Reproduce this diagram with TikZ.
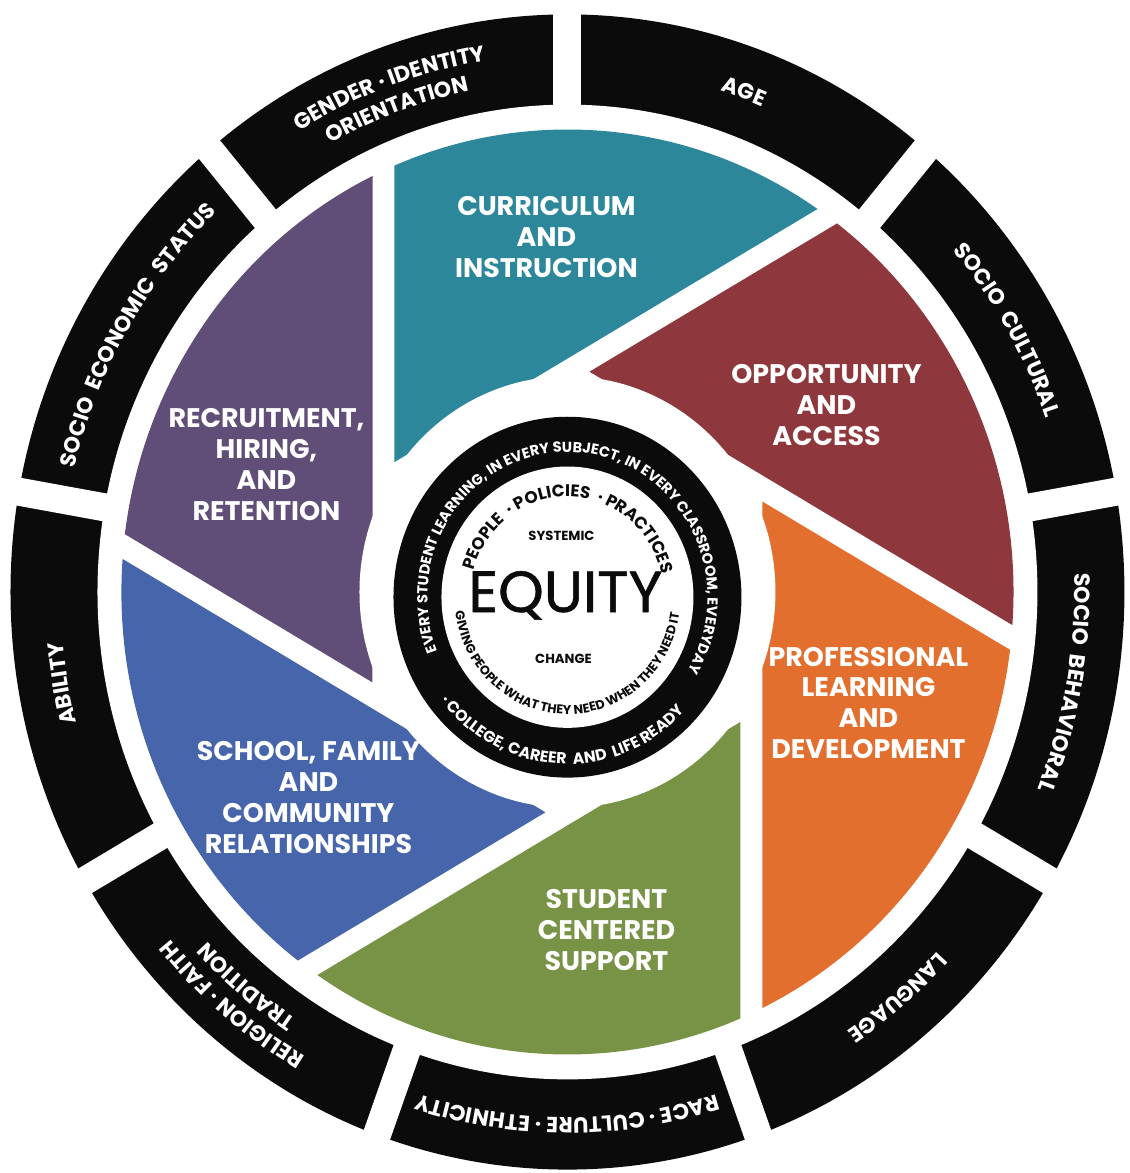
\documentclass[tikz,border=0pt]{standalone}
\usepackage{fontspec}
\setmainfont{Poppins}
\usetikzlibrary{decorations.text}
\definecolor{mauDen}{HTML}{0B0B0B}
\definecolor{mauTeal}{HTML}{2C879A}
\definecolor{mauMaroon}{HTML}{8E373C}
\definecolor{mauOrange}{HTML}{E36F2E}
\definecolor{mauGreen}{HTML}{799346}
\definecolor{mauBlue}{HTML}{4665AB}
\definecolor{mauPurple}{HTML}{604E78}
\tikzset{
  nhan/.style={text=white, font=\bfseries\fontsize{15.3}{17.6}\selectfont, align=center},
  giua/.style={text=mauDen, anchor=base},
}
% chu chay theo cung: goc giua, ban kinh, nua goc, chu
\newcommand{\chuvong}[4]{%
  \path[decorate,decoration={text along path,text align=center,text color=white,
      text={|\bfseries\fontsize{12.5}{13}\selectfont|#4}}]
    ({#1+#3}:#2) arc[start angle={#1+#3},end angle={#1-#3},radius=#2];}
\begin{document}
\begin{tikzpicture}[x=0.2mm, y=0.2mm, yscale=1.037]
  \def\Rout{557}% vong ngoai
  \def\Rin{470}
  \def\Rpet{446}% canh hoa
  \def\Rhole{208}
  \def\dl{173}
  \def\gp{22}
  \pgfmathsetmacro\vy{(0.5*\dl+\gp)/cos(30)}
  \useasboundingbox (-567.5,-560.3) rectangle (562.5,570.9);
  % vong ngoai 9 o
  \fill[mauDen] (0,0) circle (\Rout);
  \fill[white] (0,0) circle (\Rin);
  \foreach \a in {10,50,...,330}
    \draw[white, line width=5.6mm] (\a:455) -- (\a:600);
  % sau canh hoa
  \foreach \goc/\mau in {0/mauTeal,-60/mauMaroon,-120/mauOrange,-180/mauGreen,-240/mauBlue,-300/mauPurple}{
    \begin{scope}[rotate=\goc]
      \clip (0,0) circle (\Rpet);
      \fill[\mau] (-\dl,\vy) -- ++(0,1200) -- ++(1040,0) -- ++(0,-600) -- cycle;
    \end{scope}}
  \fill[white] (0,0) circle (\Rhole);
  % chu tren vong ngoai
  \chuvong{110}{519}{22}{GENDER · IDENTITY}
  \chuvong{110}{493}{22}{ORIENTATION}
  \chuvong{70}{507}{20}{AGE}
  \chuvong{30}{507}{20}{SOCIO {\ }CULTURAL}
  \chuvong{-10}{507}{20}{SOCIO {\ }BEHAVIORAL}
  \chuvong{-50}{507}{20}{LANGUAGE}
  \chuvong{-90}{507}{22}{RACE · CULTURE · ETHNICITY}
  \chuvong{-130}{519}{22}{RELIGION · FAITH}
  \chuvong{-130}{493}{22}{TRADITION}
  \chuvong{-170}{507}{20}{ABILITY}
  \chuvong{150}{507}{22}{SOCIO {\ }ECONOMIC {\ }STATUS}
  % nhan canh hoa
  \node[nhan] (curriculum) at (-21,342) {CURRICULUM\\AND\\INSTRUCTION};
  \node[nhan] (opportunity) at (259,180) {OPPORTUNITY\\AND\\ACCESS};
  \node[nhan] (professional) at (301,-107) {PROFESSIONAL\\LEARNING\\AND\\DEVELOPMENT};
  \node[nhan] (student) at (39,-326) {STUDENT\\CENTERED\\SUPPORT};
  \node[nhan] (school) at (-259,-198) {SCHOOL, FAMILY\\AND\\COMMUNITY\\RELATIONSHIPS};
  \node[nhan] (recruitment) at (-301,123) {RECRUITMENT,\\HIRING,\\AND\\RETENTION};
  % vong tron giua
  \begin{scope}[shift={(0,-5)}]
    \fill[mauDen] (0,0) circle (174);
    \fill[white] (0,0) circle (126);
    \path[decorate,decoration={text along path,text align=center,text color=white,
        text={|\bfseries\fontsize{8.3}{9}\selectfont|EVERY STUDENT LEARNING, IN EVERY SUBJECT, IN EVERY CLASSROOM, EVERYDAY}}]
      (225:140) arc[start angle=225,end angle=-54,radius=140];
    \path[decorate,decoration={text along path,text align=center,text color=white,
        text={|\bfseries\fontsize{9}{10}\selectfont|· COLLEGE, CAREER {\ }AND {\ }LIFE READY}}]
      (200:161) arc[start angle=200,end angle=335,radius=161];
    \path[decorate,decoration={text along path,text align=center,text color=mauDen,
        text={|\bfseries\fontsize{9.6}{10}\selectfont|PEOPLE {\ }· POLICIES {\ }· PRACTICES}}]
      (189:97) arc[start angle=189,end angle=-11,radius=97];
    \path[decorate,decoration={text along path,text align=center,text color=mauDen,
        text={|\bfseries\fontsize{7.2}{8}\selectfont|GIVING PEOPLE WHAT THEY NEED WHEN THEY NEED IT}}]
      (170:113) arc[start angle=170,end angle=369,radius=113];
  \end{scope}
  \node[giua, font=\bfseries\fontsize{7.5}{8}\selectfont] (systemic) at (-6,50) {SYSTEMIC};
  \node[giua, font=\fontsize{33}{33}\selectfont\addfontfeature{FakeBold=1}] (equity) at (-2,-19.3) {EQUITY};
  \node[giua, font=\bfseries\fontsize{7.5}{8}\selectfont] (change) at (-4,-68.5) {CHANGE};
\end{tikzpicture}
\end{document}
